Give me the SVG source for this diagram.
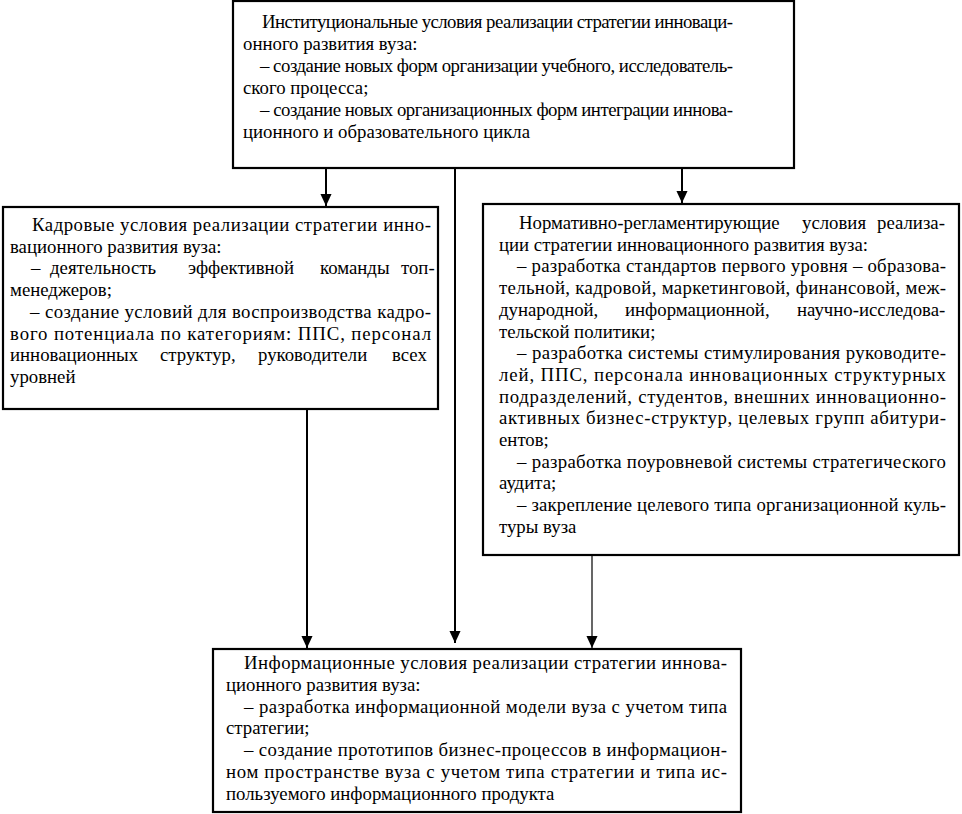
<svg xmlns="http://www.w3.org/2000/svg" width="962" height="814" viewBox="0 0 962 814">
<style>
.box{fill:#fff;stroke:#000;stroke-width:2.2}
.t{font-family:"Liberation Serif","Times New Roman",serif;font-size:18.8px;fill:#000}
.c{stroke:#000;stroke-width:2;fill:none}
.thin{stroke:#000;stroke-width:1.2;fill:none}
</style>
<defs>
<marker id="ad" markerUnits="userSpaceOnUse" markerWidth="12" markerHeight="14" viewBox="0 0 13 12" refX="13" refY="6" orient="auto">
<path d="M0,0 L13,6 L0,12 z" fill="#000"/>
</marker>
</defs>
<g id="connectors">
<line class="c" x1="326" y1="168" x2="326" y2="206" marker-end="url(#ad)"/>
<line class="c" x1="682" y1="168" x2="682" y2="203" marker-end="url(#ad)"/>
<line class="c" x1="455" y1="168" x2="455" y2="643" marker-end="url(#ad)"/>
<line class="c" x1="307" y1="409" x2="307" y2="648" marker-end="url(#ad)"/>
<line class="thin" x1="592" y1="555" x2="592" y2="648" marker-end="url(#ad)"/>
</g>
<g id="node-institutional">
<rect class="box" x="233" y="1" width="561" height="167"/>
<text class="t" x="262" y="27.5" textLength="471" lengthAdjust="spacing">Институциональные условия реализации стратегии инноваци-</text>
<text class="t" x="243" y="49.5">онного развития вуза:</text>
<text class="t" x="260" y="71.5" textLength="473" lengthAdjust="spacing">– создание новых форм организации учебного, исследователь-</text>
<text class="t" x="243" y="93.5">ского процесса;</text>
<text class="t" x="260" y="115.5" textLength="473" lengthAdjust="spacing">– создание новых организационных форм интеграции иннова-</text>
<text class="t" x="243" y="137.5">ционного и образовательного цикла</text>
</g>
<g id="node-personnel">
<rect class="box" x="3" y="207" width="435" height="202"/>
<text class="t" x="32" y="231" textLength="399" lengthAdjust="spacing">Кадровые условия реализации стратегии инно-</text>
<text class="t" x="10" y="252.7">вационного развития вуза:</text>
<text class="t" y="274.4"><tspan x="31">–</tspan><tspan x="50">деятельность</tspan><tspan x="188">эффективной</tspan><tspan x="320">команды</tspan><tspan x="401">топ-</tspan></text>
<text class="t" x="10" y="296.1">менеджеров;</text>
<text class="t" x="30" y="317.8" textLength="401" lengthAdjust="spacing">– создание условий для воспроизводства кадро-</text>
<text class="t" x="10" y="339.5" textLength="421" lengthAdjust="spacing">вого потенциала по категориям: ППС, персонал</text>
<text class="t" y="361.2"><tspan x="10">инновационных</tspan><tspan x="160">структур,</tspan><tspan x="258">руководители</tspan><tspan x="392">всех</tspan></text>
<text class="t" x="10" y="382.9">уровней</text>
</g>
<g id="node-regulatory">
<rect class="box" x="483" y="204" width="476" height="351"/>
<text class="t" y="229"><tspan x="519">Нормативно-регламентирующие</tspan><tspan x="802">условия</tspan><tspan x="877">реализа-</tspan></text>
<text class="t" x="499" y="250.7">ции стратегии инновационного развития вуза:</text>
<text class="t" x="517" y="272.4" textLength="429" lengthAdjust="spacing">– разработка стандартов первого уровня – образова-</text>
<text class="t" x="499" y="294.1" textLength="447" lengthAdjust="spacing">тельной, кадровой, маркетинговой, финансовой, меж-</text>
<text class="t" y="315.8"><tspan x="499">дународной,</tspan><tspan x="625">информационной,</tspan><tspan x="797">научно-исследова-</tspan></text>
<text class="t" x="499" y="337.5">тельской политики;</text>
<text class="t" x="517" y="359.2" textLength="429" lengthAdjust="spacing">– разработка системы стимулирования руководите-</text>
<text class="t" x="499" y="380.9" textLength="447" lengthAdjust="spacing">лей, ППС, персонала инновационных структурных</text>
<text class="t" x="499" y="402.6" textLength="447" lengthAdjust="spacing">подразделений, студентов, внешних инновационно-</text>
<text class="t" x="499" y="424.3" textLength="447" lengthAdjust="spacing">активных бизнес-структур, целевых групп абитури-</text>
<text class="t" x="499" y="446">ентов;</text>
<text class="t" x="517" y="467.7" textLength="429" lengthAdjust="spacing">– разработка поуровневой системы стратегического</text>
<text class="t" x="499" y="489.4">аудита;</text>
<text class="t" x="517" y="511.1" textLength="429" lengthAdjust="spacing">– закрепление целевого типа организационной куль-</text>
<text class="t" x="499" y="532.8">туры вуза</text>
</g>
<g id="node-information">
<rect class="box" x="213" y="649" width="528" height="163"/>
<text class="t" x="244" y="669" textLength="483" lengthAdjust="spacing">Информационные условия реализации стратегии иннова-</text>
<text class="t" x="226" y="690.8">ционного развития вуза:</text>
<text class="t" x="244" y="712.6" textLength="483" lengthAdjust="spacing">– разработка информационной модели вуза с учетом типа</text>
<text class="t" x="226" y="734.4">стратегии;</text>
<text class="t" x="244" y="756.2" textLength="483" lengthAdjust="spacing">– создание прототипов бизнес-процессов в информацион-</text>
<text class="t" x="226" y="778" textLength="501" lengthAdjust="spacing">ном пространстве вуза с учетом типа стратегии и типа ис-</text>
<text class="t" x="226" y="799.8">пользуемого информационного продукта</text>
</g>
</svg>
